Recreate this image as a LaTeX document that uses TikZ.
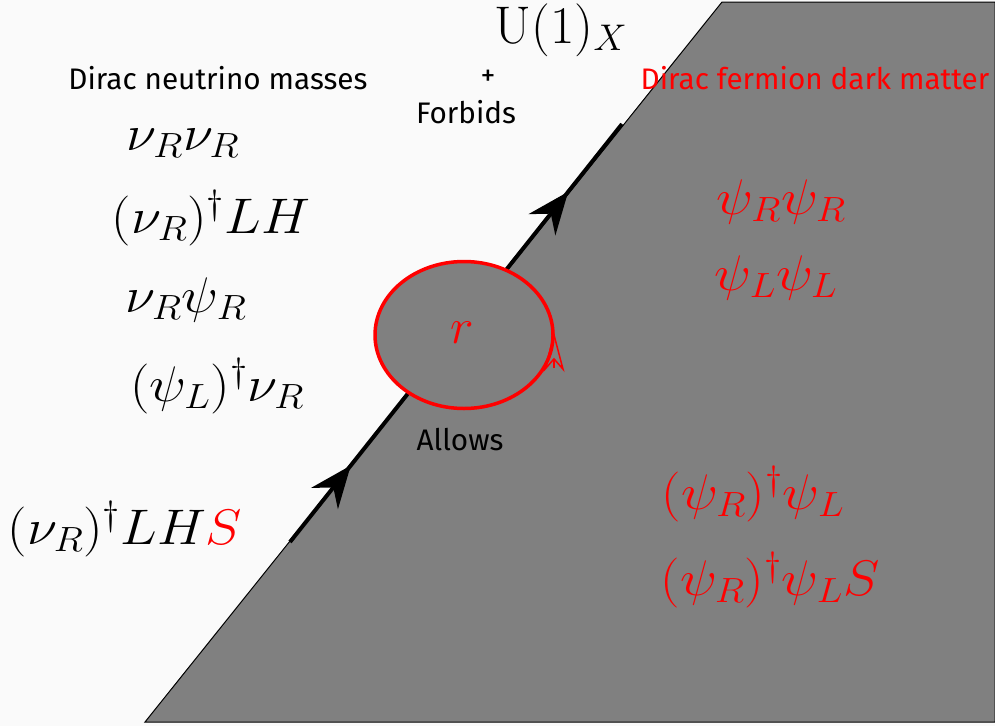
\documentclass[tikz,border=0pt]{standalone}
\usepackage{fix-cm}
\usepackage{fontspec}
\setsansfont{Fira Sans}
\usetikzlibrary{arrows.meta,decorations.markings}
\definecolor{bg}{HTML}{FAFAFA}
\definecolor{wall}{HTML}{808080}
\newcommand{\wm}[1]{\scalebox{1.1}[1]{$#1$}}
\tikzset{
  x=1pt,y=-1pt,
  lbl/.style={font=\sffamily\fontsize{29.7}{34}\selectfont,inner sep=0pt},
  mth/.style={font=\fontsize{50}{56}\selectfont,inner sep=0pt,anchor=base},
  big/.style={font=\fontsize{53}{60}\selectfont,inner sep=0pt,anchor=base},
  flow/.style={line width=4pt,postaction={decorate},decoration={markings,
     mark=at position 0.183 with {\arrow{Stealth[length=42pt,width=34pt,inset=14pt]}},
     mark=at position 0.838 with {\arrow{Stealth[length=42pt,width=34pt,inset=14pt]}}}},
  loopc/.style={draw=red,line width=3.5pt,fill=wall},
  looparr/.style={draw=red,line width=1.5pt,-{Stealth[open,length=40pt,width=21pt,inset=12pt]}},
}
\begin{document}
\begin{tikzpicture}
\fill[bg] (0,0) rectangle (995,726);
\useasboundingbox (0,0) rectangle (995,726);
\draw[fill=wall,line width=1pt] (145,722) -- (722,2) -- (995,2) -- (995,722) -- cycle;
\coordinate (s) at (290,542);
\coordinate (e) at (622,124);
\draw[flow] (s) -- (e);
\coordinate (c) at (464,335);
\draw[loopc] (c) ellipse [x radius=89, y radius=73.5];
\coordinate (a0) at (554,368);
\coordinate (a1) at (554,332);
\draw[looparr] (a0) -- (a1);
\node[mth,text=red,anchor=center] (r) at (462,333) {$r$};
\node[big] (u) at (561,43) {$\mathrm{U}(1)_X$};
\node[lbl] (dn) at (218,78) {Dirac neutrino masses};
\node[lbl] (plus) at (488,78) {+};
\node[lbl] (forb) at (466,112) {Forbids};
\node[lbl,text=red] (df) at (815,78) {Dirac fermion dark matter};
\node[lbl] (allow) at (460,440) {Allows};
\node[mth] (m1) at (183,150) {\wm{\nu_R\nu_R}};
\node[mth] (m2) at (211,233) {\wm{(\nu_R)^\dagger LH}};
\node[mth] (m3) at (186,312) {\wm{\nu_R\psi_R}};
\node[mth] (m4) at (217,401) {\wm{(\psi_L)^\dagger\nu_R}};
\node[mth] (m5) at (125,544) {\wm{(\nu_R)^\dagger LH\textcolor{red}{S}}};
\node[mth,text=red] (d1) at (781,214) {\wm{\psi_R\psi_R}};
\node[mth,text=red] (d2) at (776,290) {\wm{\psi_L\psi_L}};
\node[mth,text=red] (d3) at (753,509) {\wm{(\psi_R)^\dagger\psi_L}};
\node[mth,text=red] (d4) at (770,595) {\wm{(\psi_R)^\dagger\psi_L S}};
\end{tikzpicture}
\end{document}
